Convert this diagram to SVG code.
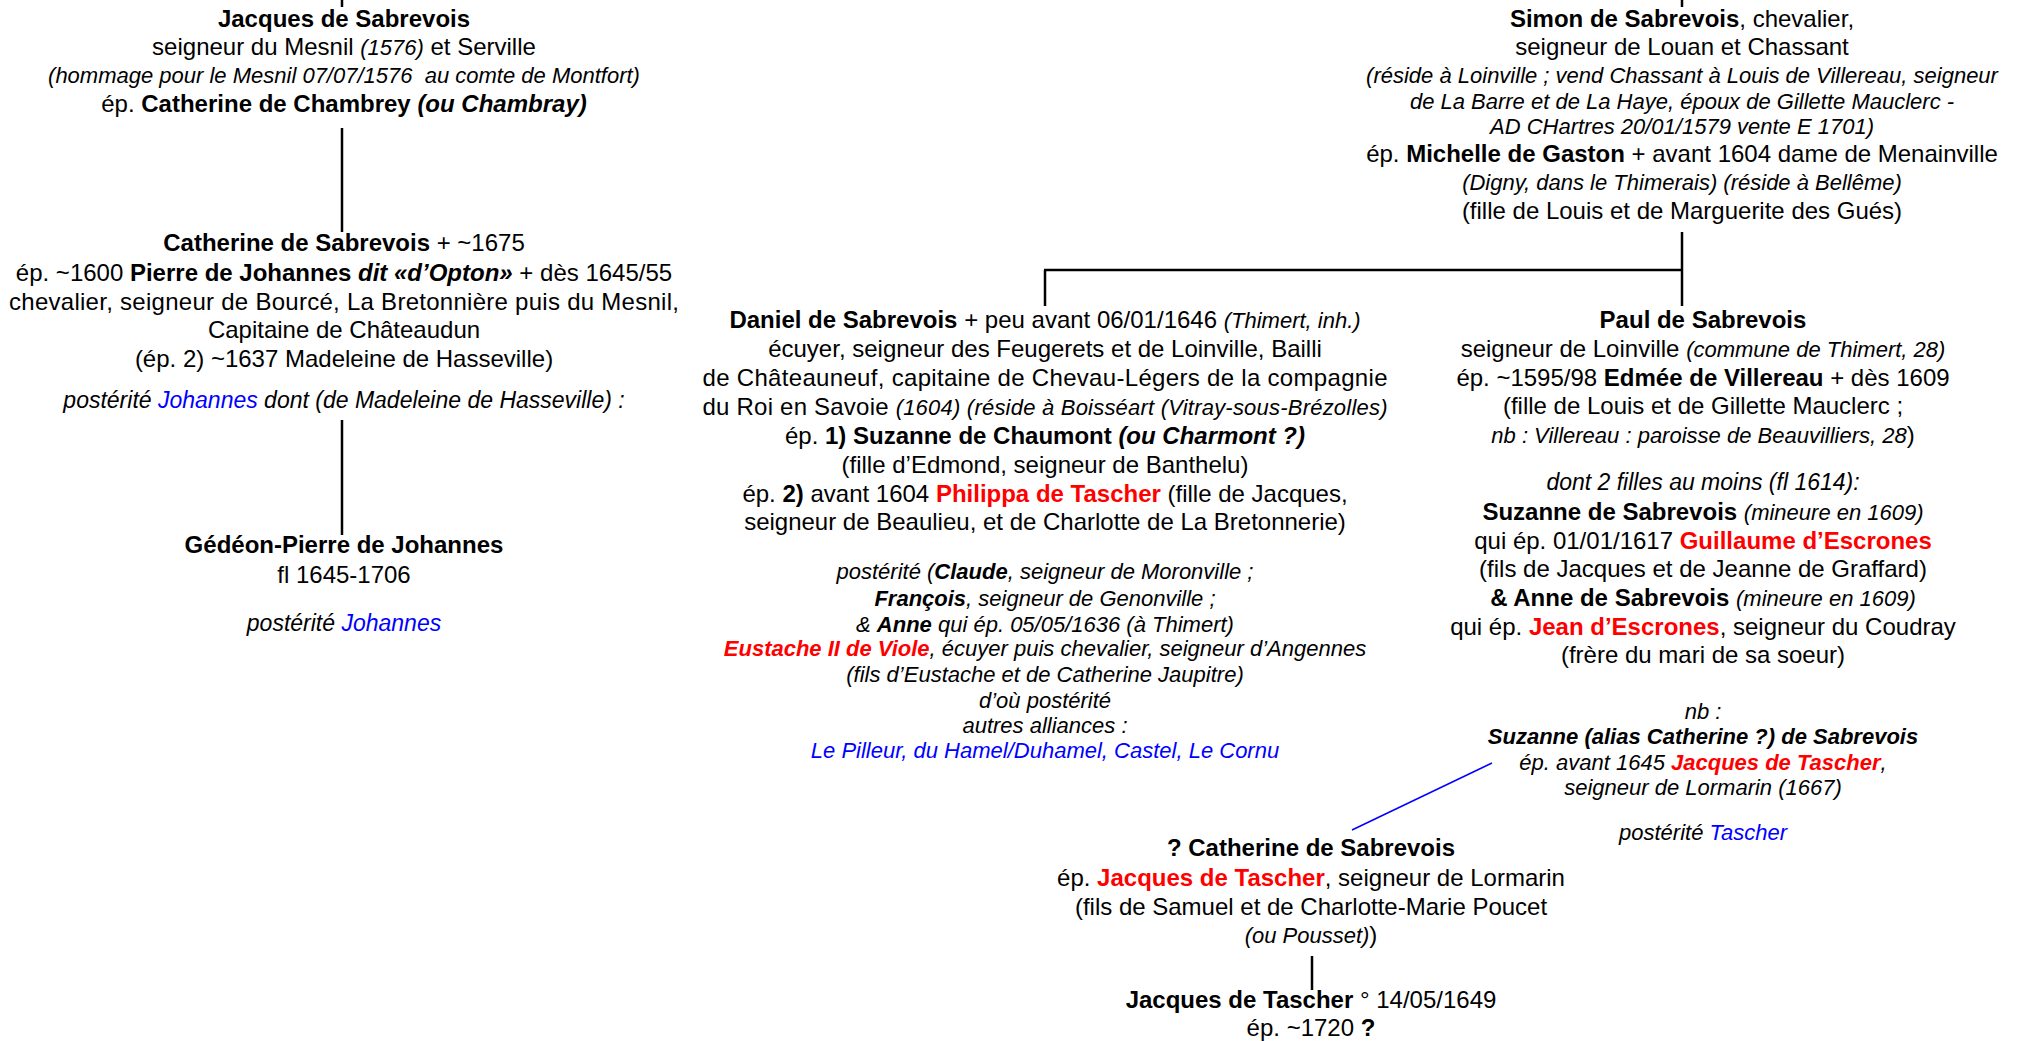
<svg xmlns="http://www.w3.org/2000/svg" width="2023" height="1041" viewBox="0 0 2023 1041">
<style>
text { font-family: "Liberation Sans", Arial, sans-serif; font-size: 24px; fill: #000; text-anchor: middle; }
.i { font-style: italic; font-size: 22px; }
.ip { font-style: italic; font-size: 23px; }
.s { font-style: italic; font-size: 22px; }
.b { font-weight: bold; }
.red { fill: #ff0000; }
.blu { fill: #0000ff; }
.ln { stroke: #000; stroke-width: 2.5; fill: none; }
.bln { stroke: #0000ff; stroke-width: 1.5; fill: none; }
</style>
<rect width="2023" height="1041" fill="#fff"/>
<g id="connectors">
<line class="ln" x1="342" y1="0" x2="342" y2="7"/>
<line class="ln" x1="342" y1="128" x2="342" y2="232"/>
<line class="ln" x1="342" y1="420" x2="342" y2="535"/>
<line class="ln" x1="1682" y1="0" x2="1682" y2="7"/>
<line class="ln" x1="1682" y1="232" x2="1682" y2="306"/>
<line class="ln" x1="1044" y1="270" x2="1683" y2="270"/>
<line class="ln" x1="1045" y1="270" x2="1045" y2="306"/>
<line class="bln" x1="1492" y1="763" x2="1352" y2="830"/>
<line class="ln" x1="1312" y1="956" x2="1312" y2="990"/>
</g>
<g id="jacques">
<text x="344" y="27" class="b">Jacques de Sabrevois</text>
<text x="344" y="55">seigneur du Mesnil <tspan class="s">(1576)</tspan> et Serville</text>
<text x="344" y="83" class="i" xml:space="preserve">(hommage pour le Mesnil 07/07/1576  au comte de Montfort)</text>
<text x="344" y="112">ép. <tspan class="b">Catherine de Chambrey <tspan font-style="italic">(ou Chambray)</tspan></tspan></text>
</g>
<g id="catherine">
<text x="344" y="251"><tspan class="b">Catherine de Sabrevois</tspan> + ~1675</text>
<text x="344" y="281">ép. ~1600 <tspan class="b">Pierre de Johannes <tspan font-style="italic">dit «d’Opton»</tspan></tspan> + dès 1645/55</text>
<text x="344" y="310" textLength="670" lengthAdjust="spacing">chevalier, seigneur de Bourcé, La Bretonnière puis du Mesnil,</text>
<text x="344" y="338">Capitaine de Châteaudun</text>
<text x="344" y="367">(ép. 2) ~1637 Madeleine de Hasseville)</text>
<text x="344" y="408" class="ip">postérité <tspan class="blu">Johannes</tspan> dont (de Madeleine de Hasseville) :</text>
</g>
<g id="gedeon">
<text x="344" y="553" class="b">Gédéon-Pierre de Johannes</text>
<text x="344" y="583">fl 1645-1706</text>
<text x="344" y="631" class="ip">postérité <tspan class="blu">Johannes</tspan></text>
</g>
<g id="simon">
<text x="1682" y="27"><tspan class="b">Simon de Sabrevois</tspan>, chevalier,</text>
<text x="1682" y="55">seigneur de Louan et Chassant</text>
<text x="1682" y="83" class="i">(réside à Loinville ; vend Chassant à Louis de Villereau, seigneur</text>
<text x="1682" y="109" class="i">de La Barre et de La Haye, époux de Gillette Mauclerc -</text>
<text x="1682" y="134" class="i">AD CHartres 20/01/1579 vente E 1701)</text>
<text x="1682" y="162">ép. <tspan class="b">Michelle de Gaston</tspan> + avant 1604 dame de Menainville</text>
<text x="1682" y="190" class="i">(Digny, dans le Thimerais) (réside à Bellême)</text>
<text x="1682" y="219">(fille de Louis et de Marguerite des Gués)</text>
</g>
<g id="daniel">
<text x="1045" y="328"><tspan class="b">Daniel de Sabrevois</tspan> + peu avant 06/01/1646 <tspan class="s">(Thimert, inh.)</tspan></text>
<text x="1045" y="357">écuyer, seigneur des Feugerets et de Loinville, Bailli</text>
<text x="1045" y="386" textLength="685" lengthAdjust="spacing">de Châteauneuf, capitaine de Chevau-Légers de la compagnie</text>
<text x="1045" y="415" textLength="685" lengthAdjust="spacing">du Roi en Savoie <tspan class="s">(1604) (réside à Boisséart (Vitray-sous-Brézolles)</tspan></text>
<text x="1045" y="444">ép. <tspan class="b">1) Suzanne de Chaumont <tspan font-style="italic">(ou Charmont ?)</tspan></tspan></text>
<text x="1045" y="473">(fille d’Edmond, seigneur de Banthelu)</text>
<text x="1045" y="502">ép. <tspan class="b">2)</tspan> avant 1604 <tspan class="b red">Philippa de Tascher</tspan> (fille de Jacques,</text>
<text x="1045" y="530">seigneur de Beaulieu, et de Charlotte de La Bretonnerie)</text>
<text x="1045" y="579" class="i">postérité (<tspan class="b">Claude</tspan>, seigneur de Moronville ;</text>
<text x="1045" y="606" class="i"><tspan class="b">François</tspan>, seigneur de Genonville ;</text>
<text x="1045" y="632" class="i">&amp; <tspan class="b">Anne</tspan> qui ép. 05/05/1636 (à Thimert)</text>
<text x="1045" y="656" class="i"><tspan class="b red">Eustache II de Viole</tspan>, écuyer puis chevalier, seigneur d’Angennes</text>
<text x="1045" y="682" class="i">(fils d’Eustache et de Catherine Jaupitre)</text>
<text x="1045" y="708" class="i">d’où postérité</text>
<text x="1045" y="733" class="i">autres alliances :</text>
<text x="1045" y="758" class="i blu">Le Pilleur, du Hamel/Duhamel, Castel, Le Cornu</text>
</g>
<g id="paul">
<text x="1703" y="328" class="b">Paul de Sabrevois</text>
<text x="1703" y="357">seigneur de Loinville <tspan class="s">(commune de Thimert, 28)</tspan></text>
<text x="1703" y="386">ép. ~1595/98 <tspan class="b">Edmée de Villereau</tspan> + dès 1609</text>
<text x="1703" y="414">(fille de Louis et de Gillette Mauclerc ;</text>
<text x="1703" y="443"><tspan class="s">nb : Villereau : paroisse de Beauvilliers, 28</tspan>)</text>
<text x="1703" y="490" class="ip">dont 2 filles au moins (fl 1614):</text>
<text x="1703" y="520"><tspan class="b">Suzanne de Sabrevois</tspan> <tspan class="s">(mineure en 1609)</tspan></text>
<text x="1703" y="549">qui ép. 01/01/1617 <tspan class="b red">Guillaume d’Escrones</tspan></text>
<text x="1703" y="577">(fils de Jacques et de Jeanne de Graffard)</text>
<text x="1703" y="606"><tspan class="b">&amp; Anne de Sabrevois</tspan> <tspan class="s">(mineure en 1609)</tspan></text>
<text x="1703" y="635">qui ép. <tspan class="b red">Jean d’Escrones</tspan>, seigneur du Coudray</text>
<text x="1703" y="663">(frère du mari de sa soeur)</text>
</g>
<g id="nb-suzanne">
<text x="1703" y="719" class="i">nb :</text>
<text x="1703" y="744" class="i b">Suzanne (alias Catherine ?) de Sabrevois</text>
<text x="1703" y="770" class="i">ép. avant 1645 <tspan class="b red">Jacques de Tascher</tspan>,</text>
<text x="1703" y="795" class="i">seigneur de Lormarin (1667)</text>
<text x="1703" y="840" class="i">postérité <tspan class="blu">Tascher</tspan></text>
</g>
<g id="catherine-tascher">
<text x="1311" y="856" class="b">? Catherine de Sabrevois</text>
<text x="1311" y="886">ép. <tspan class="b red">Jacques de Tascher</tspan>, seigneur de Lormarin</text>
<text x="1311" y="915">(fils de Samuel et de Charlotte-Marie Poucet</text>
<text x="1311" y="943"><tspan class="s">(ou Pousset)</tspan>)</text>
</g>
<g id="jacques-tascher">
<text x="1311" y="1008"><tspan class="b">Jacques de Tascher</tspan> ° 14/05/1649</text>
<text x="1311" y="1036">ép. ~1720 <tspan class="b">?</tspan></text>
</g>
</svg>
